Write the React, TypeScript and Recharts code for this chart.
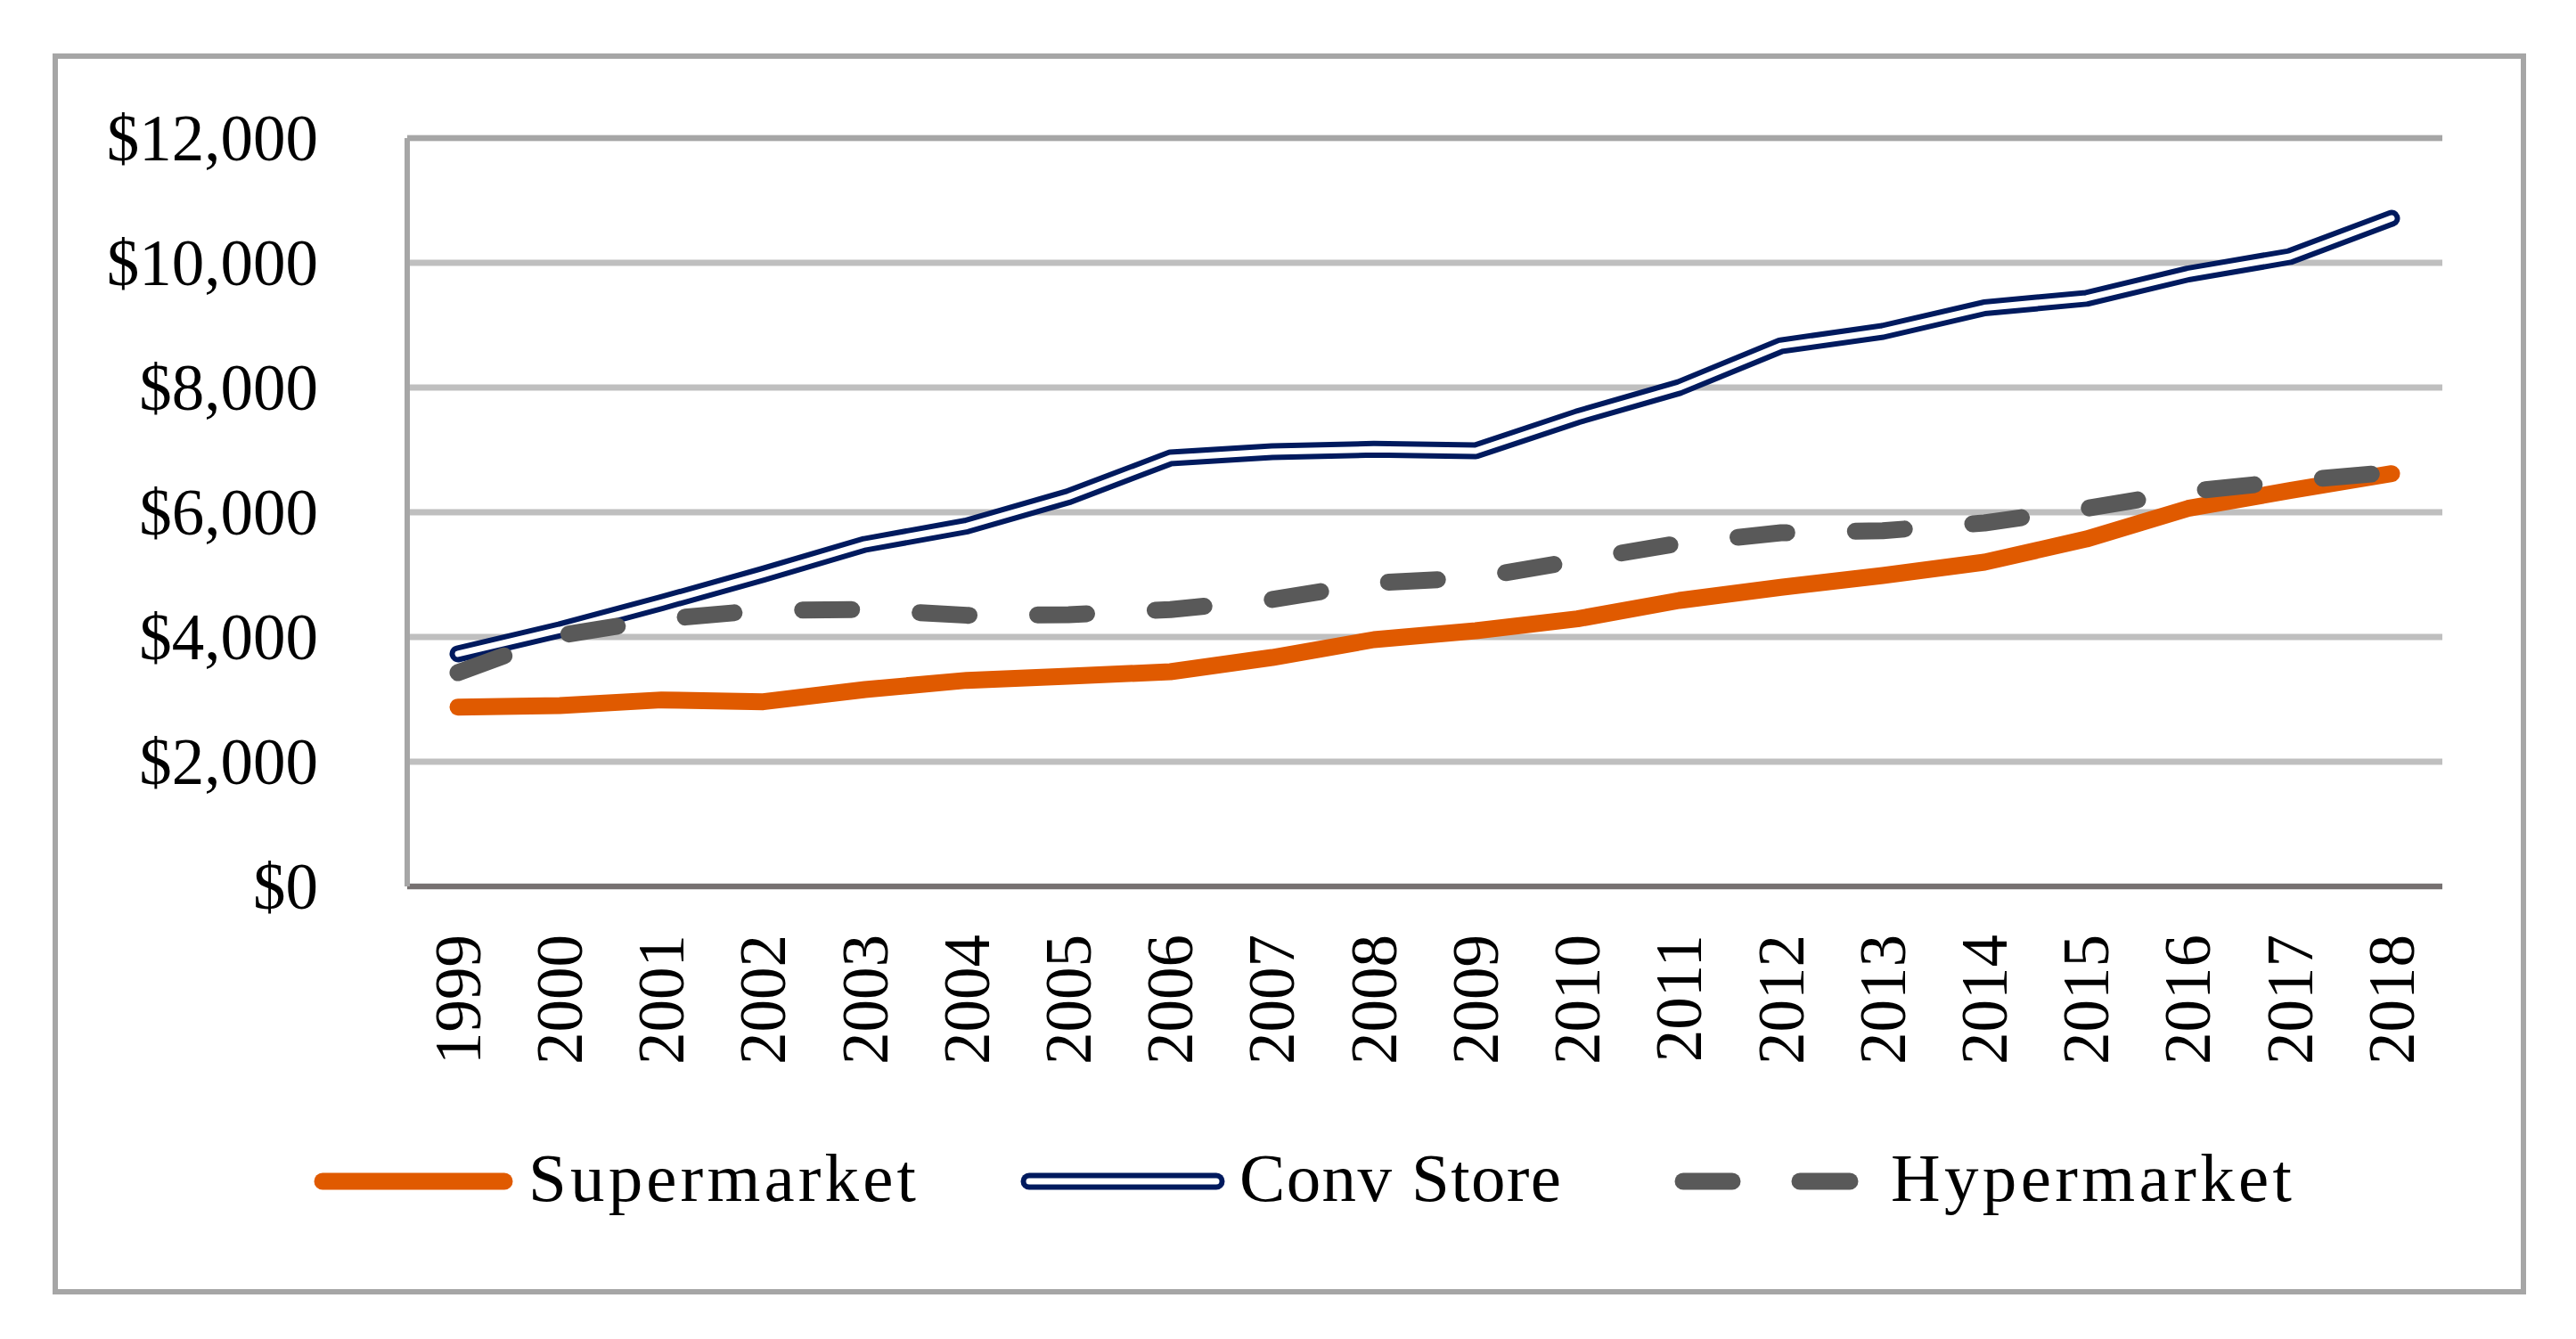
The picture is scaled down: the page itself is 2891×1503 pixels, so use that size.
import React from 'react';
import { LineChart, Line, XAxis, YAxis, CartesianGrid, ReferenceLine } from 'recharts';

const years = ['1999', '2000', '2001', '2002', '2003', '2004', '2005', '2006', '2007', '2008', '2009', '2010', '2011', '2012', '2013', '2014', '2015', '2016', '2017', '2018'];
const supermarket = [2876, 2900, 2991, 2962, 3157, 3305, 3371, 3443, 3671, 3957, 4100, 4291, 4586, 4796, 4986, 5200, 5571, 6061, 6347, 6619];
const convStore = [3730, 4114, 4550, 5007, 5486, 5779, 6250, 6870, 6971, 7010, 6985, 7530, 8000, 8670, 8900, 9278, 9430, 9821, 10100, 10714];
const hypermarket = [3428, 4024, 4286, 4429, 4440, 4348, 4357, 4440, 4600, 4868, 4948, 5229, 5500, 5671, 5704, 5829, 6061, 6333, 6500, 6640];
const yTicks = [0, 2000, 4000, 6000, 8000, 10000, 12000];
const seriesNames = ['Supermarket', 'Conv Store', 'Hypermarket'];

const data = years.map((year, i) => ({
  year,
  supermarket: supermarket[i],
  convStore: convStore[i],
  hypermarket: hypermarket[i],
}));

const ORANGE = '#E05A00';
const NAVY = '#001A5E';
const GREY = '#595959';
const FONT = '"Liberation Serif", "Times New Roman", serif';

const YTick = (props: any) => {
  const { x, y, payload } = props;
  return (
    <text x={x} y={y} dy="0.34em" textAnchor="end" fontFamily={FONT} fontSize={73} fill="#000">
      {'$' + Number(payload.value).toLocaleString('en-US')}
    </text>
  );
};

const XTick = (props: any) => {
  const { x, y, payload } = props;
  return (
    <text
      x={x}
      y={y}
      dy="0.34em"
      transform={`rotate(-90 ${x} ${y})`}
      textAnchor="end"
      fontFamily={FONT}
      fontSize={73}
      fill="#000"
    >
      {payload.value}
    </text>
  );
};

const Overlay = () => (
  <svg
    width={2891}
    height={1503}
    style={{ position: 'absolute', left: 0, top: 0, pointerEvents: 'none' }}
  >
    <rect x={62} y={63} width={2770} height={1387} fill="none" stroke="#A6A6A6" strokeWidth={6} />
    {/* Supermarket */}
    <line x1={362} y1={1326} x2={566} y2={1326} stroke={ORANGE} strokeWidth={19} strokeLinecap="round" />
    <text x={593} y={1348} fontFamily={FONT} fontSize={77} fill="#000" textLength={435} lengthAdjust="spacing">
      {seriesNames[0]}
    </text>
    {/* Conv Store */}
    <line x1={1155} y1={1326} x2={1365} y2={1326} stroke={NAVY} strokeWidth={19} strokeLinecap="round" />
    <line x1={1155} y1={1326} x2={1365} y2={1326} stroke="#fff" strokeWidth={7} strokeLinecap="round" />
    <text x={1391} y={1348} fontFamily={FONT} fontSize={77} fill="#000" textLength={361} lengthAdjust="spacing">
      {seriesNames[1]}
    </text>
    {/* Hypermarket */}
    <line x1={1889} y1={1326} x2={1944} y2={1326} stroke={GREY} strokeWidth={19} strokeLinecap="round" />
    <line x1={2020} y1={1326} x2={2076} y2={1326} stroke={GREY} strokeWidth={19} strokeLinecap="round" />
    <text x={2122} y={1348} fontFamily={FONT} fontSize={77} fill="#000" textLength={450} lengthAdjust="spacing">
      {seriesNames[2]}
    </text>
  </svg>
);

export default function App() {
  return (
    <div style={{ position: 'absolute', left: 0, top: 0, width: 2891, height: 1503, background: '#fff', overflow: 'hidden' }}>
      <LineChart
        width={2891}
        height={1503}
        data={data}
        margin={{ top: 155, right: 150, bottom: 308, left: 157 }}
      >
        <CartesianGrid vertical={false} stroke="#BFBFBF" strokeWidth={7} />
        <ReferenceLine y={12000} stroke="#A6A6A6" strokeWidth={6} />
        <XAxis
          dataKey="year"
          height={200}
          interval={0}
          padding={{ left: 57, right: 57 }}
          tickLine={false}
          tickSize={0}
          tickMargin={54}
          tick={<XTick />}
          axisLine={{ stroke: '#767171', strokeWidth: 6 }}
        />
        <YAxis
          width={300}
          domain={[0, 12000]}
          ticks={yTicks}
          interval={0}
          tickLine={false}
          tickSize={0}
          tickMargin={100}
          tick={<YTick />}
          axisLine={{ stroke: '#A6A6A6', strokeWidth: 6 }}
        />
        <YAxis
          yAxisId="r"
          orientation="right"
          width={0}
          domain={[0, 12000]}
          tick={false}
          tickLine={false}
          axisLine={{ stroke: '#A6A6A6', strokeWidth: 6 }}
        />
        <Line
          type="linear"
          dataKey="supermarket"
          name={seriesNames[0]}
          stroke={ORANGE}
          strokeWidth={19}
          strokeLinecap="round"
          strokeLinejoin="round"
          dot={false}
          activeDot={false}
          isAnimationActive={false}
        />
        <Line
          type="linear"
          dataKey="convStore"
          name={seriesNames[1]}
          stroke={NAVY}
          strokeWidth={19}
          strokeLinecap="round"
          strokeLinejoin="round"
          dot={false}
          activeDot={false}
          isAnimationActive={false}
        />
        <Line
          type="linear"
          dataKey="convStore"
          name={seriesNames[1] + ' inner'}
          legendType="none"
          stroke="#FFFFFF"
          strokeWidth={7}
          strokeLinecap="round"
          strokeLinejoin="round"
          dot={false}
          activeDot={false}
          isAnimationActive={false}
        />
        <Line
          type="linear"
          dataKey="hypermarket"
          name={seriesNames[2]}
          stroke={GREY}
          strokeWidth={19}
          strokeDasharray="55 77"
          strokeLinecap="round"
          strokeLinejoin="round"
          dot={false}
          activeDot={false}
          isAnimationActive={false}
        />
      </LineChart>
      <Overlay />
    </div>
  );
}
